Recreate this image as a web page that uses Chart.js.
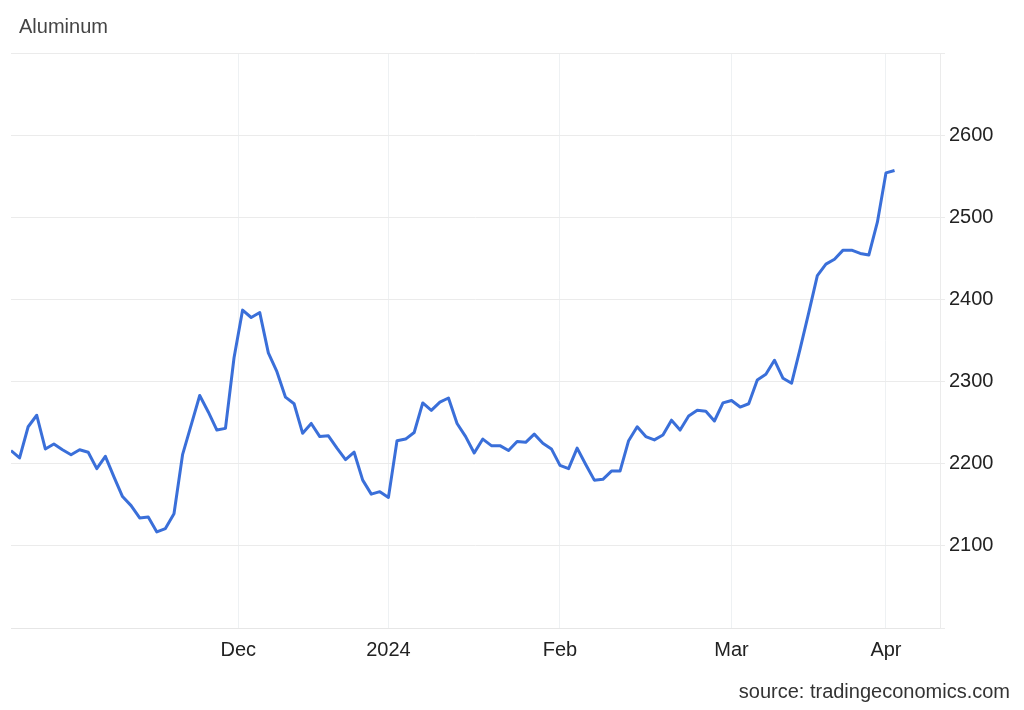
<!DOCTYPE html>
<html>
<head>
<meta charset="utf-8">
<script src="https://cdn.jsdelivr.net/npm/chart.js@4.4.1/dist/chart.umd.min.js"></script>
<style>
  body { margin: 0; background: #fff; }
  #wrap { position: relative; width: 1024px; height: 710px; }
  #title { position: absolute; left: 19px; top: 15px; font: 20px "Liberation Sans", Arial, sans-serif; color: #444; }
  #source { position: absolute; right: 14px; top: 680px; font: 20px "Liberation Sans", Arial, sans-serif; color: #333; }
</style>
</head>
<body>
<div id="wrap">
  <canvas id="chart"></canvas>
  <div id="title">Aluminum</div>
  <div id="source">source: tradingeconomics.com</div>
</div>
<script>
// daily aluminum prices (USD/T)
const prices = [
  2216, 2207, 2245, 2259, 2218, 2224, 2217, 2211, 2217, 2214,
  2194, 2209, 2184, 2160, 2149, 2134, 2135, 2117, 2121, 2139,
  2211, 2247, 2283, 2263, 2241, 2243, 2329, 2387, 2378, 2384,
  2335, 2312, 2281, 2273, 2237, 2249, 2233, 2234, 2219, 2205,
  2214, 2180, 2163, 2166, 2159, 2228, 2230, 2238, 2274, 2265,
  2275, 2280, 2249, 2233, 2213, 2230, 2222, 2222, 2216, 2227,
  2226, 2236, 2225, 2218, 2198, 2194, 2219, 2199, 2180, 2181,
  2191, 2191, 2228, 2245, 2233, 2229, 2235, 2253, 2241, 2258,
  2265, 2264, 2252, 2274, 2277, 2269, 2273, 2302, 2309, 2326,
  2304, 2298, 2340, 2384, 2429, 2443, 2449, 2460, 2460, 2456,
  2454, 2494, 2554, 2557
];
// month starts, in trading-day positions
const monthTicks = [26.5, 44, 64, 84, 102];
const monthLabels = ['Dec', '2024', 'Feb', 'Mar', 'Apr'];
const yTicks = [2100, 2200, 2300, 2400, 2500, 2600];

const font = { family: '"Liberation Sans", Arial, sans-serif', size: 20 };

new Chart(document.getElementById('chart'), {
  type: 'line',
  data: {
    datasets: [{
      data: prices.map((v, i) => ({ x: i, y: v })),
      borderColor: '#3a6fd9',
      borderWidth: 3,
      pointRadius: 0,
      tension: 0,
      borderJoinStyle: 'round'
    }]
  },
  options: {
    responsive: true,
    maintainAspectRatio: false,
    animation: false,
    layout: { padding: { left: 11, top: 53, right: 0, bottom: 0 } },
    plugins: { legend: { display: false }, tooltip: { enabled: false } },
    scales: {
      x: {
        type: 'linear',
        min: 0,
        max: 108.3,
        afterBuildTicks: s => { s.ticks = monthTicks.map(v => ({ value: v })); },
        afterFit: s => { s.height = 82; },
        grid: { color: '#eef1f3', drawTicks: false },
        border: { color: '#e6e6e6' },
        ticks: {
          autoSkip: false,
          maxRotation: 0,
          padding: 10,
          color: '#222',
          font: font,
          callback: (v, i) => monthLabels[i]
        }
      },
      y: {
        position: 'right',
        min: 2000,
        max: 2700,
        afterFit: s => { s.width = 84; },
        grid: { color: '#ebebeb', tickLength: 5 },
        border: { color: '#ebebeb' },
        ticks: {
          stepSize: 100,
          padding: 4,
          color: '#222',
          font: font,
          callback: v => yTicks.includes(v) ? String(v) : ''
        }
      }
    }
  }
});
</script>
</body>
</html>
